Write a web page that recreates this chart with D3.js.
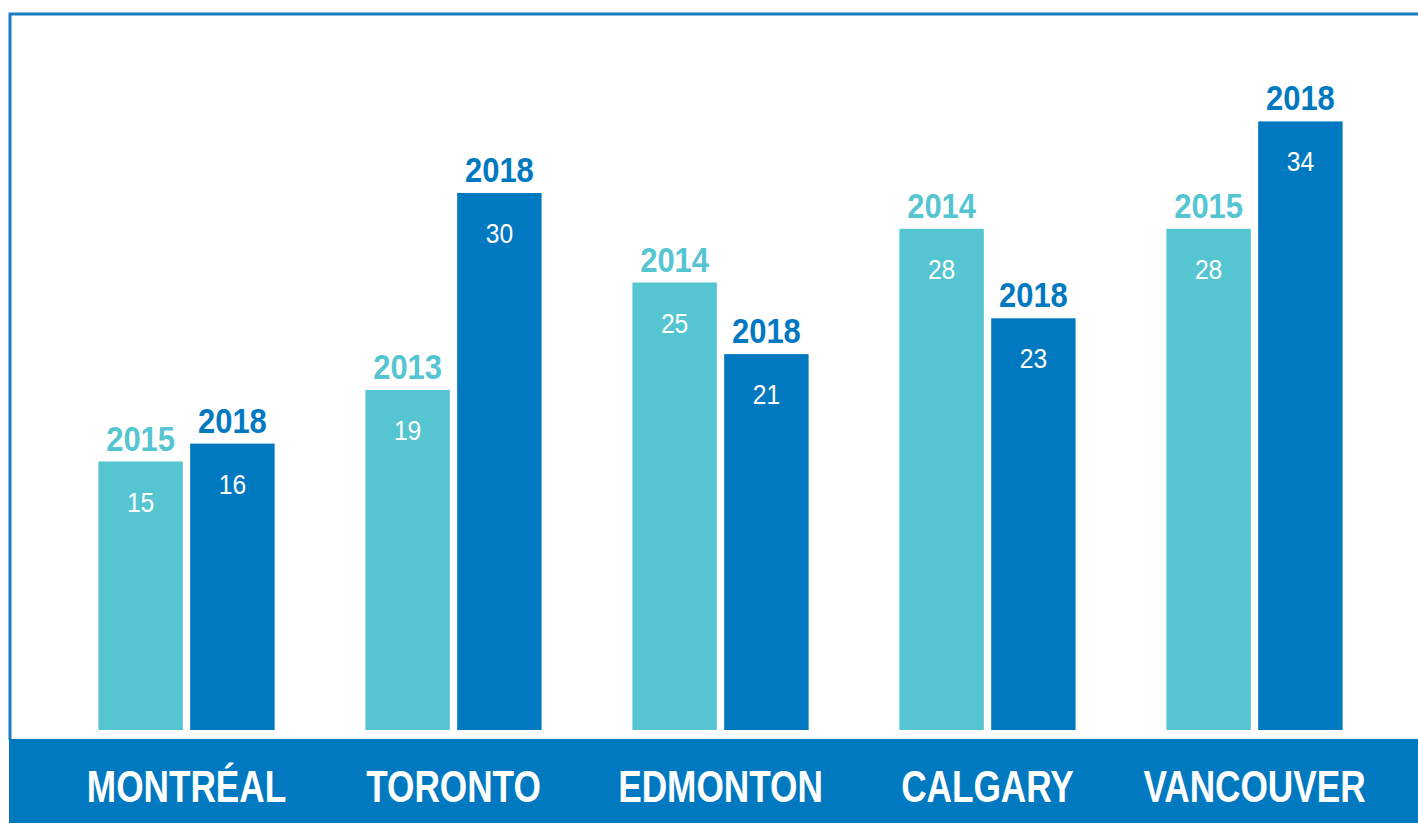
<!DOCTYPE html>
<html>
<head>
<meta charset="utf-8">
<script src="https://cdn.jsdelivr.net/npm/d3@7"></script>
<style>
  body { margin: 0; background: #fff; }
</style>
</head>
<body>
<div id="chart"></div>
<script>
(function(){
// data
var cities = ["MONTRÉAL", "TORONTO", "EDMONTON", "CALGARY", "VANCOUVER"];
var firstYears = ["2015", "2013", "2014", "2014", "2015"];
var firstValues = [15, 19, 25, 28, 28];
var secondYears = ["2018", "2018", "2018", "2018", "2018"];
var secondValues = [16, 30, 21, 23, 34];

var W = 1418, H = 823;
var light = "#56c5d2", dark = "#0079c1";
var baseY = 730;
var font = "'Liberation Sans', Arial, sans-serif";

var data = [];
cities.forEach(function (c, i) {
    data.push({ city: c, slot: 0, year: firstYears[i], value: firstValues[i], color: light });
    data.push({ city: c, slot: 1, year: secondYears[i], value: secondValues[i], color: dark });
});

var svg = d3.select("#chart")
    .append("svg")
    .attr("width", W)
    .attr("height", H);

// frame
svg.append("path")
    .attr("d", "M10,740 V14 H" + W)
    .attr("fill", "none")
    .attr("stroke", "#1a7dc4")
    .attr("stroke-width", 3);

// bottom band
svg.append("rect")
    .attr("x", 9)
    .attr("y", 739)
    .attr("width", W - 9)
    .attr("height", H - 739)
    .attr("fill", dark);

// scales
var x0 = d3.scaleBand()
    .domain(cities)
    .range([53, 1388])
    .paddingInner(0.34)
    .paddingOuter(0.17);

var x1 = d3.scaleBand()
    .domain([0, 1])
    .range([0, x0.bandwidth()])
    .paddingInner(0.08);

var y = d3.scaleLinear()
    .domain([0, 35])
    .range([baseY, baseY - 35 * 17.9]);

var bars = svg.append("g").selectAll("g")
    .data(data)
    .join("g")
    .attr("transform", function (d) { return "translate(" + (x0(d.city) + x1(d.slot)) + ",0)"; });

bars.append("rect")
    .attr("x", 0)
    .attr("y", function (d) { return y(d.value); })
    .attr("width", x1.bandwidth())
    .attr("height", function (d) { return y(0) - y(d.value); })
    .attr("fill", function (d) { return d.color; });

// value labels inside bars (condensed via horizontal scale)
bars.append("text")
    .attr("transform", function (d) {
        return "translate(" + (x1.bandwidth() / 2) + "," + (y(d.value) + 50) + ") scale(0.88,1)";
    })
    .attr("text-anchor", "middle")
    .attr("fill", "#fff")
    .style("font-family", font)
    .style("font-size", "28px")
    .text(function (d) { return d.value; });

// year labels above bars
bars.append("text")
    .attr("transform", function (d) {
        return "translate(" + (x1.bandwidth() / 2) + "," + (y(d.value) - 11) + ") scale(0.86,1)";
    })
    .attr("text-anchor", "middle")
    .attr("fill", function (d) { return d.color; })
    .style("font-family", font)
    .style("font-weight", "bold")
    .style("font-size", "36px")
    .text(function (d) { return d.year; });

// city labels in band
svg.append("g").selectAll("text")
    .data(cities)
    .join("text")
    .attr("transform", function (d) {
        return "translate(" + (x0(d) + x0.bandwidth() / 2) + ",802) scale(0.8,1)";
    })
    .attr("text-anchor", "middle")
    .attr("fill", "#fff")
    .style("font-family", font)
    .style("font-weight", "bold")
    .style("font-size", "44px")
    .text(function (d) { return d; });
})();
</script>
</body>
</html>
